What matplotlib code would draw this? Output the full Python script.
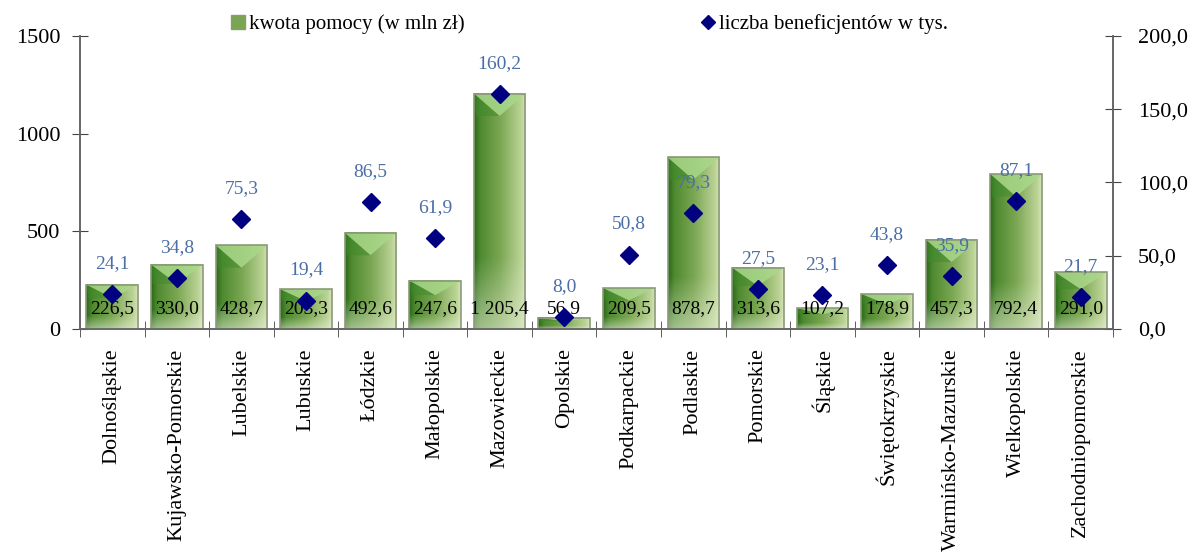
import matplotlib.pyplot as plt
import numpy as np
from matplotlib.patches import Polygon, Rectangle
from matplotlib.lines import Line2D
from matplotlib.colors import to_rgb

plt.rcParams['font.family'] = ['Liberation Serif', 'DejaVu Serif']

regions = ['Dolnośląskie', 'Kujawsko-Pomorskie', 'Lubelskie', 'Lubuskie', 'Łódzkie',
           'Małopolskie', 'Mazowieckie', 'Opolskie', 'Podkarpackie', 'Podlaskie',
           'Pomorskie', 'Śląskie', 'Świętokrzyskie', 'Warmińsko-Mazurskie',
           'Wielkopolskie', 'Zachodniopomorskie']
kwota = [226.5, 330.0, 428.7, 203.3, 492.6, 247.6, 1205.4, 56.9, 209.5, 878.7,
         313.6, 107.2, 178.9, 457.3, 792.4, 291.0]
benef = [24.1, 34.8, 75.3, 19.4, 86.5, 61.9, 160.2, 8.0, 50.8, 79.3,
         27.5, 23.1, 43.8, 35.9, 87.1, 21.7]


def pl(v, dec=1):
    s = f'{v:,.{dec}f}'
    return s.replace(',', ' ').replace('.', ',')


fig = plt.figure(figsize=(11.9, 5.58), dpi=100)
ax = fig.add_axes([0.0672, 0.4104, 0.8681, 0.5251])
ax2 = ax.twinx()

# gradient image for bars (dark left edge -> mid green -> light right)
stops = [0.0, 0.12, 0.5, 0.92, 1.0]
cols = [to_rgb(c) for c in ['#2a6a18', '#4f8a30', '#7aa652', '#bcd497', '#d4e4b8']]
nx, ny = 80, 60
t = np.linspace(0, 1, nx)
row = np.stack([np.interp(t, stops, [c[k] for c in cols]) for k in range(3)], axis=1)
img = np.repeat(row[None, :, :], ny, axis=0)
vy = np.linspace(0, 1, ny)[:, None, None]  # 0 = bottom
fade = np.clip((0.3 - vy) / 0.3, 0, 1) * 0.5
img = img + (np.array([0.93, 0.95, 0.88]) - img) * fade

bw = 0.8
for i, h in enumerate(kwota):
    x0, x1 = i - bw / 2, i + bw / 2
    ax.imshow(img, extent=(x0, x1, 0, h), origin='lower', aspect='auto',
              zorder=2, interpolation='bilinear')
    d = min(0.3 * h, 115)
    ax.add_patch(Polygon([(x0, h), (x1, h), (i, h - d)], closed=True,
                         facecolor='#a9d88a', edgecolor='none', alpha=0.85, zorder=3))
    ax.add_patch(Polygon([(x0, h), (i, h - d), (x0 + 0.03, h - d)], closed=True,
                         facecolor='#3f8a2a', edgecolor='none', alpha=0.5, zorder=3))
    ax.add_patch(Rectangle((x0, 0), bw, h, facecolor='none', edgecolor='#8c9a78',
                           linewidth=1.2, zorder=4))
    ax.annotate(pl(kwota[i]), (i, 0), xytext=(0, 15), textcoords='offset points',
                ha='center', va='center', fontsize=14, color='black', zorder=6)

ax.set_xlim(-0.5, 15.5)
ax.set_ylim(0, 1500)
ax.set_yticks([0, 500, 1000, 1500])
ax.set_xticks(range(16))
ax.set_xticklabels(regions, rotation=90, fontsize=16)
ax.set_xticks(np.arange(-0.5, 16, 1), minor=True)
ax.tick_params(axis='x', which='major', length=0, pad=14)
ax.tick_params(axis='x', which='minor', direction='inout', length=12, color='#444444')
ax.tick_params(axis='y', direction='inout', length=12, labelsize=16, pad=8, color='#444444')

ax2.set_ylim(0, 200)
ax2.set_yticks([0, 50, 100, 150, 200])
ax2.set_yticklabels([pl(v) for v in [0, 50, 100, 150, 200]])
ax2.tick_params(axis='y', direction='inout', length=12, labelsize=16, pad=12, color='#444444')

ax2.plot(range(16), benef, linestyle='none', marker='D', markersize=9,
         color='#000080', zorder=7)
for i, v in enumerate(benef):
    ax2.annotate(pl(v), (i, v), xytext=(0, 22), textcoords='offset points',
                 ha='center', va='center', fontsize=14, color='#4a6ea5')

for a in (ax, ax2):
    a.spines['top'].set_visible(False)
    for s in ('left', 'right', 'bottom'):
        a.spines[s].set_color('#666666')
        a.spines[s].set_linewidth(1.2)
ax2.set_zorder(ax.get_zorder() + 1)
ax2.patch.set_visible(False)

h1 = Rectangle((0, 0), 1, 1, facecolor='#7aa652', edgecolor='#8c9a78')
h2 = Line2D([], [], linestyle='none', marker='D', markersize=7, color='#000080')
fig.legend([h1, h2], ['kwota pomocy (w mln zł)', 'liczba beneficjentów w tys.'],
           loc='upper left', bbox_to_anchor=(0.178, 1.008), ncol=2, frameon=False,
           fontsize=15, handlelength=0.7, handletextpad=0.2, columnspacing=11.3)

fig.savefig('out.png', dpi=100)
